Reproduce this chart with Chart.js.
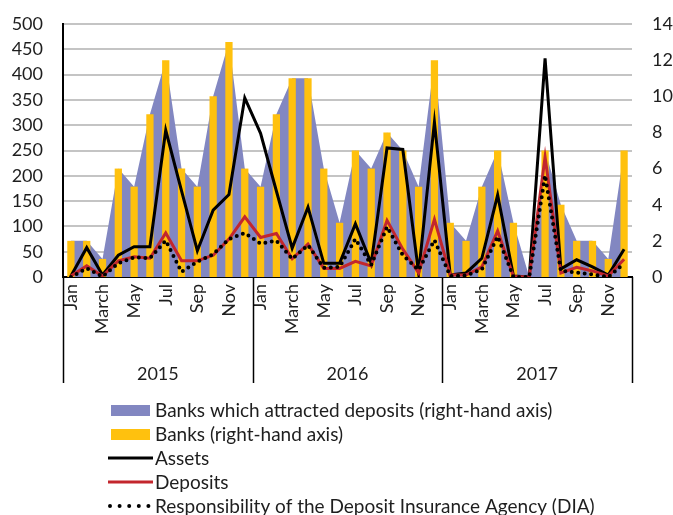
<!DOCTYPE html>
<html>
<head>
<meta charset="utf-8">
<script src="https://cdn.jsdelivr.net/npm/chart.js@4.4.1/dist/chart.umd.min.js"></script>
<style>
  html, body { margin: 0; padding: 0; background: #fff; }
  #wrap { width: 673px; height: 515px; }
</style>
</head>
<body>
<div id="wrap"><canvas id="chart" width="673" height="515"></canvas></div>
<script>
// Monthly data, Jan 2015 - Dec 2017
const months = ["Jan","Feb","March","Apr","May","Jun","Jul","Aug","Sep","Oct","Nov","Dec"];
const years = ["2015","2016","2017"];

// number of banks (right-hand axis)
const banksAttracted = [2,2,1,6,5,9,12,6,5,10,13,6, 5,9,11,11,6,3,7,6,8,7,5,12, 3,2,5,7,3,0,7,4,2,2,1,7];
const banks          = [2,2,1,6,5,9,12,6,5,10,13,6, 5,9,11,11,6,3,7,6,8,7,5,12, 3,2,5,7,3,0,7,4,2,2,1,7];

// amounts (left-hand axis)
const assets   = [2,58,4,43,60,60,290,170,52,132,163,354, 284,170,57,138,27,27,105,27,255,252,8,306, 4,8,37,162,2,0,432,16,34,20,4,55];
const deposits = [2,22,2,32,40,37,87,32,32,43,75,119, 78,86,36,65,17,17,31,22,112,55,8,114, 4,4,20,91,1,0,237,8,19,12,2,35];
const dia      = [0,17,1,27,39,37,72,10,30,45,75,87, 66,72,36,63,18,20,75,24,99,43,14,73, 2,3,15,80,0,0,201,12,9,5,0,27];

const leftTicks = { min: 0, max: 500, step: 50 };
const rightTicks = { min: 0, max: 14, step: 2 };

const categories = [];
years.forEach(y => months.forEach(m => categories.push(m)));

const FONT = "Lato, 'Open Sans', sans-serif";
const TEXT = "#1e1e1e";

// plot box: the axes are pinned so the plot sits at a fixed place on the canvas
const PLOT = { top: 24, bottom: 277, left: 63, right: 632 };

// year labels, group separators and the stacked legend under the axis
const extrasPlugin = {
  id: "extras",
  afterDraw(chart) {
    const ctx = chart.ctx;
    const area = chart.chartArea;
    const step = (area.right - area.left) / categories.length;
    const sepBottom = area.bottom + 106;

    ctx.save();
    ctx.strokeStyle = "#000";
    ctx.lineWidth = 1.5;
    for (let g = 0; g <= years.length; g++) {
      const gx = Math.round(area.left + g * months.length * step) + 0.5;
      ctx.beginPath();
      ctx.moveTo(gx, area.bottom);
      ctx.lineTo(gx, sepBottom);
      ctx.stroke();
    }
    ctx.fillStyle = TEXT;
    ctx.font = "18px " + FONT;
    ctx.textAlign = "center";
    ctx.textBaseline = "middle";
    years.forEach((y, g) => {
      const cx = area.left + (g + 0.5) * months.length * step;
      ctx.fillText(y, cx, area.bottom + 97);
    });

    // legend
    const rowY = [410, 434, 458, 482, 506];
    ctx.font = "19px " + FONT;
    ctx.textAlign = "left";
    chart.data.datasets.forEach((ds, i) => {
      const y = rowY[i];
      if (ds.type === "line" && !ds.fill) {
        ctx.beginPath();
        ctx.strokeStyle = ds.borderColor;
        ctx.lineWidth = ds.borderDash ? 4 : 3;
        ctx.lineCap = ds.borderDash ? "round" : "butt";
        ctx.setLineDash(ds.borderDash ? [0, 9.6] : []);
        ctx.moveTo(ds.borderDash ? 110 : 108, y);
        ctx.lineTo(153, y);
        ctx.stroke();
        ctx.setLineDash([]);
      } else {
        ctx.fillStyle = ds.backgroundColor;
        ctx.fillRect(111, y - 5, 39, 11);
      }
      ctx.fillStyle = TEXT;
      ctx.fillText(ds.label, 155, y + 1);
    });
    ctx.restore();
  }
};

new Chart(document.getElementById("chart"), {
  data: {
    labels: categories,
    datasets: [
      {
        type: "line",
        label: "Banks which attracted deposits (right-hand axis)",
        data: banksAttracted,
        yAxisID: "y1",
        fill: "origin",
        backgroundColor: "#8287c1",
        borderWidth: 0,
        pointRadius: 0,
        tension: 0,
        order: 5
      },
      {
        type: "bar",
        label: "Banks (right-hand axis)",
        data: banks,
        yAxisID: "y1",
        backgroundColor: "#ffc10e",
        barPercentage: 0.46,
        categoryPercentage: 1,
        order: 4
      },
      {
        type: "line",
        label: "Assets",
        data: assets,
        yAxisID: "y",
        borderColor: "#000",
        borderWidth: 3,
        pointRadius: 0,
        tension: 0,
        fill: false,
        order: 3
      },
      {
        type: "line",
        label: "Deposits",
        data: deposits,
        yAxisID: "y",
        borderColor: "#c3262d",
        borderWidth: 3,
        pointRadius: 0,
        tension: 0,
        fill: false,
        order: 2
      },
      {
        type: "line",
        label: "Responsibility of the Deposit Insurance Agency (DIA)",
        data: dia,
        yAxisID: "y",
        borderColor: "#000",
        borderWidth: 4,
        borderDash: [0, 6.5],
        borderCapStyle: "round",
        pointRadius: 0,
        tension: 0,
        fill: false,
        order: 1
      }
    ]
  },
  options: {
    responsive: false,
    animation: false,
    devicePixelRatio: 1,
    layout: { autoPadding: false, padding: { top: PLOT.top, left: 0, right: 0, bottom: 0 } },
    plugins: { legend: { display: false }, tooltip: { enabled: false } },
    scales: {
      x: {
        type: "category",
        offset: true,
        grid: { display: false, drawTicks: false },
        border: { display: true, color: "#000", width: 2 },
        ticks: {
          autoSkip: false,
          minRotation: 90,
          maxRotation: 90,
          padding: 7,
          color: TEXT,
          font: { family: FONT, size: 18 },
          callback: function (v, i) { return i % 2 === 0 ? this.getLabelForValue(v) : ""; }
        },
        afterFit: s => { s.height = 515 - PLOT.bottom; }
      },
      y: {
        position: "left",
        min: leftTicks.min,
        max: leftTicks.max,
        ticks: { stepSize: leftTicks.step, padding: 20, color: TEXT, font: { family: FONT, size: 18 } },
        grid: { color: "#c4c4c4", lineWidth: 2, drawTicks: false },
        border: { display: true, color: "#000", width: 2 },
        afterFit: s => { s.width = PLOT.left; s.paddingTop = 0; s.paddingBottom = 0; }
      },
      y1: {
        position: "right",
        min: rightTicks.min,
        max: rightTicks.max,
        ticks: { stepSize: rightTicks.step, padding: 20, color: TEXT, font: { family: FONT, size: 18 } },
        grid: { display: false, drawTicks: false },
        border: { display: false },
        afterFit: s => { s.width = 673 - PLOT.right; s.paddingTop = 0; s.paddingBottom = 0; }
      }
    }
  },
  plugins: [extrasPlugin]
});
</script>
</body>
</html>
